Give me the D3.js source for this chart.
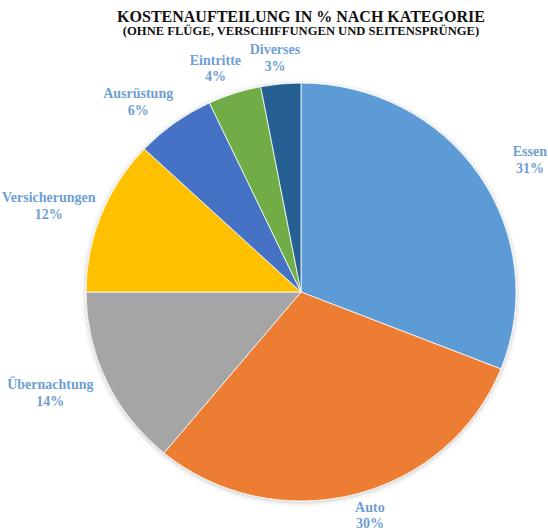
<!DOCTYPE html>
<html lang="de">
<head>
<meta charset="utf-8">
<script src="https://cdn.jsdelivr.net/npm/d3@7"></script>
<style>
  html, body { margin: 0; padding: 0; background: #fff; }
  svg { display: block; }
  text { font-family: "Liberation Serif", "DejaVu Serif", serif; font-weight: bold; }
</style>
</head>
<body>
<svg id="chart" width="548" height="531"></svg>
<script>
// Cost breakdown by category, in percent
const categories = ["Essen", "Auto", "Übernachtung", "Versicherungen", "Ausrüstung", "Eintritte", "Diverses"];
const shares = [31, 30, 14, 12, 6, 4, 3];
const sliceColors = ["#5b9bd5", "#ed7d31", "#a5a5a5", "#ffc000", "#4472c4", "#70ad47", "#255e91"];
const titleText = "KOSTENAUFTEILUNG IN % NACH KATEGORIE";
const subtitleText = "(OHNE FLÜGE, VERSCHIFFUNGEN  UND SEITENSPRÜNGE)";

const W = 548, H = 531;
const cx = 301, cy = 292;
const rx = 215, ry = 209;       // the pie is drawn slightly wider than tall
const labelRx = rx + 62, labelRy = ry + 27;   // ring on which the labels sit
const labelColor = "#6f9fd3";
const labelSize = 14;

const svg = d3.select("#chart");

// soft shadow around the pie
const defs = svg.append("defs");
const f = defs.append("filter").attr("id", "soft").attr("x", "-10%").attr("y", "-10%").attr("width", "120%").attr("height", "120%");
f.append("feDropShadow").attr("dx", 0).attr("dy", 1).attr("stdDeviation", 2.5)
  .attr("flood-color", "#000").attr("flood-opacity", 0.25);

// titles
svg.append("text")
  .attr("x", cx).attr("y", 22)
  .attr("text-anchor", "middle")
  .attr("font-size", 16)
  .attr("fill", "#111")
  .text(titleText);
svg.append("text")
  .attr("x", cx).attr("y", 35)
  .attr("text-anchor", "middle")
  .attr("font-size", 12.6)
  .attr("fill", "#111")
  .text(subtitleText);

const data = categories.map((c, i) => ({ name: c, value: shares[i], color: sliceColors[i] }));

const pie = d3.pie().value(d => d.value).sort(null);
const arcs = pie(data);

const arc = d3.arc().innerRadius(0).outerRadius(ry);

const pieG = svg.append("g")
  .attr("transform", `translate(${cx},${cy}) scale(${rx / ry},1)`)
  .attr("filter", "url(#soft)");

pieG.selectAll("path")
  .data(arcs)
  .join("path")
  .attr("d", arc)
  .attr("fill", d => d.data.color)
  .attr("stroke", "#fff")
  .attr("stroke-width", 0.8)
  .attr("vector-effect", "non-scaling-stroke");

// labels: two lines (name, percent) centred on an outer ring at each slice's mid angle
const labelG = svg.append("g");
const lineH = 16.5;

arcs.forEach(a => {
  const mid = (a.startAngle + a.endAngle) / 2;
  const sx = Math.sin(mid), sy = -Math.cos(mid);
  const g = labelG.append("g");
  const t1 = g.append("text").attr("font-size", labelSize).attr("fill", labelColor)
    .attr("text-anchor", "middle").text(a.data.name);
  const t2 = g.append("text").attr("font-size", labelSize).attr("fill", labelColor)
    .attr("text-anchor", "middle").text(a.data.value + "%");
  const w = Math.max(t1.node().getComputedTextLength(), t2.node().getComputedTextLength());
  const h = lineH * 2;
  let bx = cx + labelRx * sx;
  let by = cy + labelRy * sy;
  bx = Math.max(w / 2 + 2, Math.min(W - w / 2 - 1, bx));
  by = Math.max(h / 2 + 38, Math.min(H - h / 2, by));
  t1.attr("x", bx).attr("y", by - 3);
  t2.attr("x", bx).attr("y", by - 3 + lineH);
});
</script>
</body>
</html>
